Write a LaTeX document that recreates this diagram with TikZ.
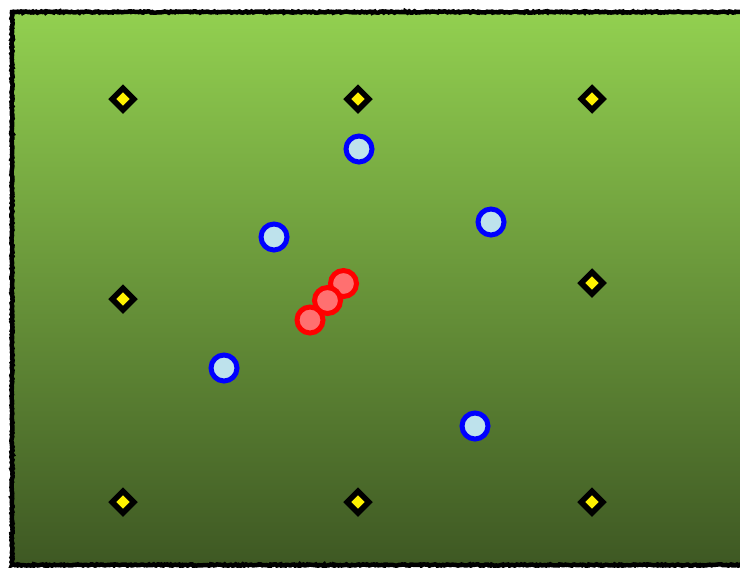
\documentclass[tikz,border=0pt]{standalone}
\usetikzlibrary{shapes.geometric,decorations.pathmorphing}

\definecolor{fieldtop}{RGB}{146,208,80}
\definecolor{fieldbot}{RGB}{62,88,35}
\definecolor{sensorfill}{RGB}{190,226,236}
\definecolor{targetfill}{RGB}{255,112,112}

\tikzset{
  anchorpt/.style={diamond,draw=black,fill=yellow,line width=5.5pt,inner sep=0pt,minimum size=24pt},
  sensor/.style={circle,draw=blue,fill=sensorfill,line width=5pt,inner sep=0pt,minimum size=26pt},
  target/.style={circle,draw=red,fill=targetfill,line width=5pt,inner sep=0pt,minimum size=26pt},
  roughedge/.style={decorate,decoration={random steps,segment length=1.5pt,amplitude=0.7pt}}
}

\begin{document}
\begin{tikzpicture}[x=1pt,y=-1pt]
\useasboundingbox (0,0) rectangle (740,568);

\shade[top color=fieldtop,bottom color=fieldbot] (12,12) rectangle (760,565);
\draw[black,line width=4.5pt,roughedge] (760,12) -- (12,12) -- (12,565) -- (760,565);

\node[anchorpt] (m1) at (123,99) {};
\node[anchorpt] (m2) at (358,99) {};
\node[anchorpt] (m3) at (592,99) {};
\node[anchorpt] (m4) at (123,299) {};
\node[anchorpt] (m5) at (592,283) {};
\node[anchorpt] (m6) at (123,502) {};
\node[anchorpt] (m7) at (358,502) {};
\node[anchorpt] (m8) at (592,502) {};

\node[sensor] (s1) at (359,149) {};
\node[sensor] (s2) at (274,237) {};
\node[sensor] (s3) at (491,222) {};
\node[sensor] (s4) at (224,368) {};
\node[sensor] (s5) at (475,426) {};

\node[target] (t1) at (343.5,283.5) {};
\node[target] (t2) at (327.5,300.5) {};
\node[target] (t3) at (310,320) {};
\end{tikzpicture}
\end{document}
